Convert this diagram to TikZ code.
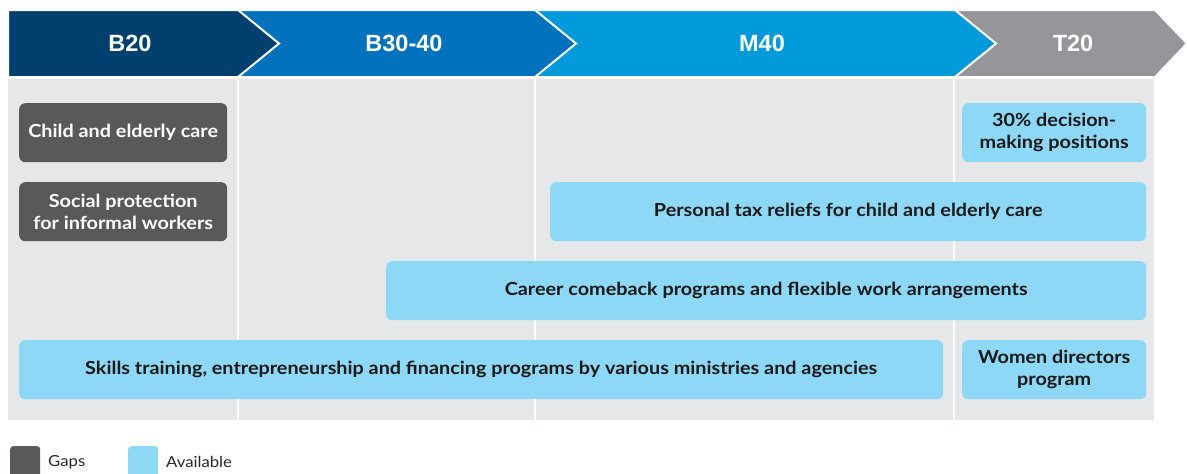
\documentclass[tikz,border=0pt]{standalone}
\usepackage{fontspec}
\setmainfont{Lato}[FakeStretch=1.1]
\newfontfamily\headfont{Liberation Sans}
\usepackage{tikz}
\usetikzlibrary{positioning}
\definecolor{bnavy}{RGB}{0,63,110}
\definecolor{bblue}{RGB}{0,113,188}
\definecolor{mblue}{RGB}{0,154,218}
\definecolor{tgray}{RGB}{150,150,154}
\definecolor{panel}{RGB}{230,231,233}
\definecolor{gapgray}{RGB}{88,89,91}
\definecolor{avail}{RGB}{141,216,246}
\tikzset{
  headlbl/.style={text=white,font=\headfont\bfseries\fontsize{23.5}{26}\selectfont},
  progbox/.style={rounded corners=6pt,anchor=north west,align=center,inner sep=0pt,
    font=\bfseries\fontsize{18}{22}\selectfont},
  gapbox/.style={progbox,fill=gapgray,text=white},
  availbox/.style={progbox,fill=avail,text=black!90},
  keytxt/.style={font=\fontsize{15.2}{18}\selectfont,text=black!85,inner sep=0pt}
}

\begin{document}
\begin{tikzpicture}[x=1pt,y=-1pt]
    \useasboundingbox (0,0) rectangle (1187,474);
    % income groups
    \foreach \l/\r/\d/\c in {955/1155/32/tgray,535/955/41/mblue,238/535/41/bblue,8/238/41/bnavy}
      \filldraw[fill=\c,draw=white,line width=2pt] (\l,10) -- (\r,10) -- (\r+\d,43.5) -- (\r,77) -- (\l,77) -- cycle;
    \node[headlbl] (b20) at (130,43.5) {B20};
    \node[headlbl] (b3040) at (404,43.5) {B30-40};
    \node[headlbl] (m40) at (762,43.5) {M40};
    \node[headlbl] (t20) at (1073,43.5) {T20};
    % panel
    \fill[panel] (8,79) rectangle (1154,420);
    \foreach \x in {238,535,954}
      \draw[white,line width=2pt] (\x,79) -- (\x,420);
    % programmes
    \node[gapbox,minimum width=208pt,minimum height=59pt] (care) at (19,103) {Child and elderly care};
    \node[gapbox,minimum width=208pt,minimum height=59pt] (social) at (19,182) {Social protection\\for informal workers};
    \node[availbox,minimum width=184pt,minimum height=59pt] (decision) at (962,103) {30\% decision-\\making positions};
    \node[availbox,minimum width=596pt,minimum height=59pt] (taxrelief) at (550,182) {Personal tax reliefs for child and elderly care};
    \node[availbox,minimum width=760pt,minimum height=59pt] (comeback) at (386,261) {Career comeback programs and flexible work arrangements};
    \node[availbox,minimum width=924pt,minimum height=59pt] (skills) at (19,340) {Skills training, entrepreneurship and financing programs by various ministries and agencies};
    \node[availbox,minimum width=184pt,minimum height=59pt] (directors) at (962,340) {Women directors\\program};
    % key
    \node[gapbox,minimum width=30pt,minimum height=32pt,rounded corners=3pt] (keygap) at (10,446) {};
    \node[keytxt,right=8pt of keygap.west,xshift=30pt,anchor=west] (gaps) {Gaps};
    \node[availbox,minimum width=30pt,minimum height=32pt,rounded corners=3pt] (keyavail) at (128,446) {};
    \node[keytxt,right=8pt of keyavail.west,xshift=30pt,anchor=west] (available) {Available};
\end{tikzpicture}
\end{document}
